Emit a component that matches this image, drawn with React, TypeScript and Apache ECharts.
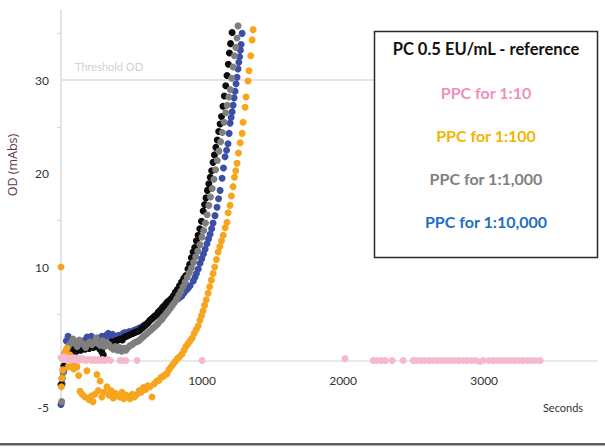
import React, { useEffect, useRef } from "react";
import * as echarts from "echarts";

// [seconds, OD (mAbs)]
const refPC: number[][] = [
  [0,-2.6],[8,-1.9],[20,-0.6],[35,0.4],[50,0.9],[65,1.1],[80,0.8],[95,1.2],[110,1.0],[125,1.3],[140,1.1],[155,1.4],[170,1.2],[185,1.5],[200,1.3],[215,1.6],[230,1.4],[245,1.7],[260,1.5],[275,1.2],[290,0.9],[300,0.6],[315,1.6],[330,1.8],[345,1.7],[360,2.0],[375,1.9],[390,2.1],[405,2.2],[420,2.3],[435,2.2],[450,2.5],[465,2.6],[480,2.7],[495,2.8],[510,2.9],[525,3.0],[540,3.1],[555,3.2],[570,3.4],[585,3.6],[600,3.8],[615,4.0],[630,4.3],[645,4.5],[660,4.7],[675,4.9],[690,5.2],[705,5.4],[720,5.7],[735,5.9],[750,6.2],[765,6.4],[780,6.6],[795,6.9],[810,7.3],[825,7.6],[840,8.0],[855,8.4],[870,8.8],[885,9.1],[900,9.8],[912,10.3],[924,11.0],[936,11.6],[948,12.1],[960,12.8],[972,13.4],[984,14.1],[996,14.9],[1008,16.0],[1018,16.7],[1028,17.4],[1038,18.2],[1048,18.9],[1058,19.6],[1068,20.3],[1078,21.2],[1088,22.0],[1098,22.8],[1108,23.6],[1118,24.5],[1128,25.3],[1138,26.1],[1148,27.2],[1158,28.3],[1168,29.4],[1177,30.5],[1186,31.7],[1194,32.9],[1202,33.9],[1213,35.1]
];

const ppc10: number[][] = [
  [0,0.3],[10,0.2],[20,0.4],[30,0.1],[40,0.3],[50,0.2],[60,0.0],[70,0.2],[80,0.1],[90,0.3],[100,0.1],[110,0.2],[120,0.0],[130,0.2],[140,0.1],[150,0.2],[160,0.1],[175,0.0],[190,0.1],[205,0.1],[220,0.0],[235,0.1],[250,0.0],[265,0.1],[280,0.0],[295,0.1],[310,0.0],[330,0.1],[350,0.0],[420,0.0],[432,0.0],[461,0.0],[539,0.0],[1000,0.0],[2014,0.2],[2213,0.0],[2240,0.0],[2270,0.0],[2300,0.0],[2348,0.0],[2426,0.0],[2496,0.0],[2520,0.0],[2550,0.0],[2580,0.0],[2610,0.0],[2640,0.0],[2670,0.0],[2700,0.0],[2730,0.0],[2760,0.0],[2790,0.0],[2820,0.0],[2850,0.0],[2880,0.0],[2910,0.0],[2940,0.0],[2970,-0.1],[2993,0.0],[3035,0.0],[3065,0.0],[3095,0.0],[3125,0.0],[3155,0.0],[3185,0.0],[3215,0.0],[3245,0.0],[3275,0.0],[3305,0.0],[3335,0.0],[3365,0.0],[3397,0.0]
];

const ppc100: number[][] = [
  [0,10.0],[3,-2.8],[7,-1.9],[12,-1.0],[20,0.2],[30,0.9],[42,1.3],[50,-0.7],[64,0.6],[75,-0.3],[90,-0.9],[105,-0.4],[113,-0.7],[125,-1.6],[135,-3.3],[150,-3.6],[170,-3.9],[184,-1.1],[200,-4.2],[215,-3.8],[227,-4.4],[240,-3.6],[255,-1.5],[265,-3.2],[277,-2.2],[290,-3.9],[305,-3.4],[326,-2.8],[340,-3.7],[355,-3.2],[370,-4.0],[385,-3.5],[400,-3.8],[418,-3.9],[432,-3.4],[445,-4.1],[460,-3.7],[475,-3.9],[489,-4.1],[505,-3.6],[520,-3.9],[539,-3.6],[555,-3.2],[570,-3.4],[585,-2.9],[600,-3.1],[615,-2.7],[630,-2.8],[645,-3.9],[660,-2.5],[680,-2.2],[695,-2.1],[710,-1.8],[725,-1.7],[740,-1.5],[752,-1.4],[765,-1.0],[780,-0.7],[794,-0.4],[810,-0.1],[825,0.2],[840,0.4],[858,0.7],[872,1.1],[886,1.5],[900,1.8],[915,2.1],[930,2.4],[944,2.9],[958,3.3],[972,3.7],[985,4.3],[996,4.8],[1007,5.3],[1018,5.9],[1030,6.5],[1043,7.2],[1054,7.9],[1066,8.6],[1078,9.3],[1090,10.0],[1102,10.8],[1114,11.6],[1126,12.2],[1138,12.8],[1150,13.4],[1164,14.2],[1177,14.8],[1185,15.8],[1198,16.6],[1208,17.6],[1220,18.6],[1230,19.6],[1239,20.3],[1248,21.1],[1258,22.2],[1270,23.3],[1284,24.3],[1291,25.5],[1305,27.1],[1312,28.2],[1326,29.9],[1333,31.0],[1345,32.6],[1355,34.3],[1362,35.4]
];

const ppc1000: number[][] = [
  [5,-4.4],[15,-1.3],[25,0.3],[40,1.2],[55,1.6],[70,1.9],[85,2.3],[100,1.8],[115,1.5],[130,2.2],[145,1.9],[160,1.7],[175,1.4],[190,1.8],[205,2.0],[220,1.7],[235,1.9],[250,2.4],[265,1.8],[280,1.6],[295,2.1],[310,1.5],[325,1.9],[340,1.7],[355,1.4],[370,1.2],[385,1.5],[400,1.1],[415,1.4],[430,1.0],[445,1.3],[460,1.1],[475,1.4],[490,1.6],[505,1.7],[520,1.9],[535,2.0],[550,2.1],[565,2.3],[580,2.5],[595,2.7],[610,2.9],[625,3.1],[640,3.3],[655,3.5],[670,3.7],[685,3.9],[700,4.2],[715,4.4],[730,4.7],[745,5.0],[760,5.3],[775,5.6],[790,5.9],[805,6.2],[820,6.6],[835,7.0],[850,7.4],[865,7.9],[880,8.4],[895,8.9],[910,9.4],[925,9.9],[940,10.5],[955,11.1],[970,11.7],[985,12.4],[1000,13.2],[1012,13.9],[1024,14.7],[1036,15.6],[1048,16.6],[1060,17.5],[1072,18.4],[1084,19.4],[1096,20.4],[1108,21.4],[1120,22.4],[1132,23.4],[1144,24.4],[1156,25.5],[1167,26.5],[1178,27.3],[1190,28.2],[1200,29.0],[1210,30.2],[1220,31.4],[1230,32.6],[1239,33.5],[1248,34.5],[1255,35.8]
];

const ppc10000: number[][] = [
  [0,-4.7],[8,-2.5],[18,-1.2],[28,0.8],[38,2.1],[50,2.6],[65,1.4],[80,1.8],[95,1.3],[110,1.9],[125,1.6],[140,2.0],[155,1.7],[170,2.2],[185,2.5],[200,2.2],[215,2.6],[230,2.3],[245,2.0],[260,2.4],[275,2.1],[290,2.6],[305,2.3],[320,2.7],[335,2.9],[350,2.5],[365,2.8],[380,2.6],[395,2.3],[410,2.7],[425,2.5],[440,2.9],[455,3.0],[470,2.8],[485,3.1],[500,3.0],[515,3.2],[530,3.3],[545,3.4],[560,3.5],[575,3.6],[590,3.8],[605,3.9],[620,4.1],[635,4.3],[650,4.5],[665,4.7],[680,4.9],[695,5.1],[710,5.3],[725,5.5],[740,5.7],[755,5.9],[770,6.0],[785,6.2],[800,6.3],[815,6.5],[830,6.6],[845,6.8],[856,6.9],[870,7.2],[885,7.5],[900,7.7],[915,8.0],[938,8.5],[950,8.9],[960,9.3],[973,9.8],[986,10.4],[998,10.9],[1010,11.4],[1022,11.9],[1035,12.5],[1046,13.0],[1057,13.5],[1068,14.1],[1078,14.7],[1092,15.5],[1106,16.4],[1117,17.3],[1128,18.2],[1142,19.5],[1152,20.6],[1163,21.8],[1174,22.5],[1184,23.2],[1192,24.3],[1199,25.4],[1206,26.0],[1213,26.6],[1220,27.3],[1227,28.1],[1234,28.8],[1241,29.6],[1248,30.3],[1255,31.2],[1261,31.9],[1266,32.5],[1272,33.2],[1277,33.8],[1284,35.0]
];

const xTickLabels = [1000, 2000, 3000];
const yTickLabels = [-5, 10, 20, 30];
const yMinorTicks = [5, 15, 25, 35];
const thresholdOD = 30;

const legendTitle = "PC 0.5 EU/mL - reference";
const legendItems = ["PPC for 1:10", "PPC for 1:100", "PPC for 1:1,000", "PPC for 1:10,000"];
const legendColors = ["#f08fbd", "#f2b600", "#808080", "#1f6fc0"];

const FONT = "Lato, 'Open Sans', sans-serif";

export default function App() {
  const ref = useRef<HTMLDivElement>(null);
  useEffect(() => {
    document.body.style.margin = "0";
    const chart = echarts.init(ref.current!, undefined, { renderer: "svg" });
    const sym = 7;
    const mk = (name: string, data: number[][], color: string, extra: any = {}) => ({
      type: "scatter",
      name,
      data,
      symbol: "circle",
      symbolSize: sym,
      itemStyle: { color, opacity: 1 },
      emphasis: { disabled: true },
      ...extra,
    });
    const legendGraphics: any[] = [
      {
        type: "rect",
        shape: { x: 374.5, y: 31.5, width: 223, height: 226 },
        style: { fill: "#ffffff", stroke: "#2a2a2a", lineWidth: 1.5 },
        z: 100,
      },
      {
        type: "text",
        x: 486,
        y: 49,
        style: {
          text: legendTitle,
          fill: "#111111",
          font: `bold 16.5px ${FONT}`,
          align: "center",
          verticalAlign: "middle",
        },
        z: 101,
      },
      ...legendItems.map((t, i) => ({
        type: "text",
        x: 486,
        y: 92 + i * 43,
        style: {
          text: t,
          fill: legendColors[i],
          font: `bold 16px ${FONT}`,
          align: "center",
          verticalAlign: "middle",
        },
        z: 101,
      })),
    ];
    chart.setOption({
      animation: false,
      grid: { left: 61, right: 8, top: 10, bottom: 40.75 },
      xAxis: {
        type: "value",
        min: 0,
        max: 3800,
        interval: 1000,
        axisLine: { onZero: true, lineStyle: { color: "#e2e2e2", width: 1.5 } },
        axisTick: { show: false },
        splitLine: { show: false },
        axisLabel: {
          customValues: xTickLabels,
          formatter: (v: number) => String(v),
          color: "#333333",
          fontFamily: FONT,
          fontSize: 12,
          margin: -33,
        },
      },
      yAxis: {
        type: "value",
        min: -5,
        max: 37.5,
        interval: 5,
        axisLine: { show: true, onZero: false, lineStyle: { color: "#dadada", width: 1.5 } },
        axisTick: {
          show: true,
          customValues: yMinorTicks,
          length: 4,
          lineStyle: { color: "#dadada" },
        },
        splitLine: { show: false },
        axisLabel: {
          customValues: yTickLabels,
          color: "#333333",
          fontFamily: FONT,
          fontSize: 12,
          margin: 12,
        },
      },
      series: [
        mk("PPC for 1:10,000", ppc10000, "#3b4fa6", {
          markLine: {
            silent: true,
            symbol: "none",
            z: 1,
            lineStyle: { color: "#e4e4e4", width: 2, type: "solid" },
            label: {
              show: true,
              position: "insideStartTop",
              formatter: "Threshold OD",
              color: "#cfd0da",
              fontFamily: FONT,
              fontSize: 11,
              distance: [14, 8],
            },
            data: [{ yAxis: thresholdOD }],
          },
        }),
        mk("PC 0.5 EU/mL - reference", refPC, "#0b0b0b"),
        mk("PPC for 1:1,000", ppc1000, "#7f7f7f"),
        mk("PPC for 1:100", ppc100, "#f7a51e"),
        mk("PPC for 1:10", ppc10, "#f6b9cc"),
      ],
      graphic: [
        ...legendGraphics,
        {
          type: "text",
          x: 12,
          y: 165,
          rotation: Math.PI / 2,
          style: {
            text: "OD (mAbs)",
            fill: "#5a3a4c",
            font: `12.5px 'Open Sans', sans-serif`,
            align: "center",
            verticalAlign: "middle",
          },
        },
        {
          type: "text",
          x: 563,
          y: 407,
          style: {
            text: "Seconds",
            fill: "#333333",
            font: `11px ${FONT}`,
            align: "center",
            verticalAlign: "middle",
          },
        },
        {
          type: "rect",
          shape: { x: 0, y: 443, width: 605, height: 2.5 },
          style: { fill: "#5c5c5c" },
        },
      ],
    });
    return () => chart.dispose();
  }, []);
  return (
    <div
      ref={ref}
      style={{ position: "absolute", left: 0, top: 0, width: 605, height: 448, background: "#fff" }}
    />
  );
}
